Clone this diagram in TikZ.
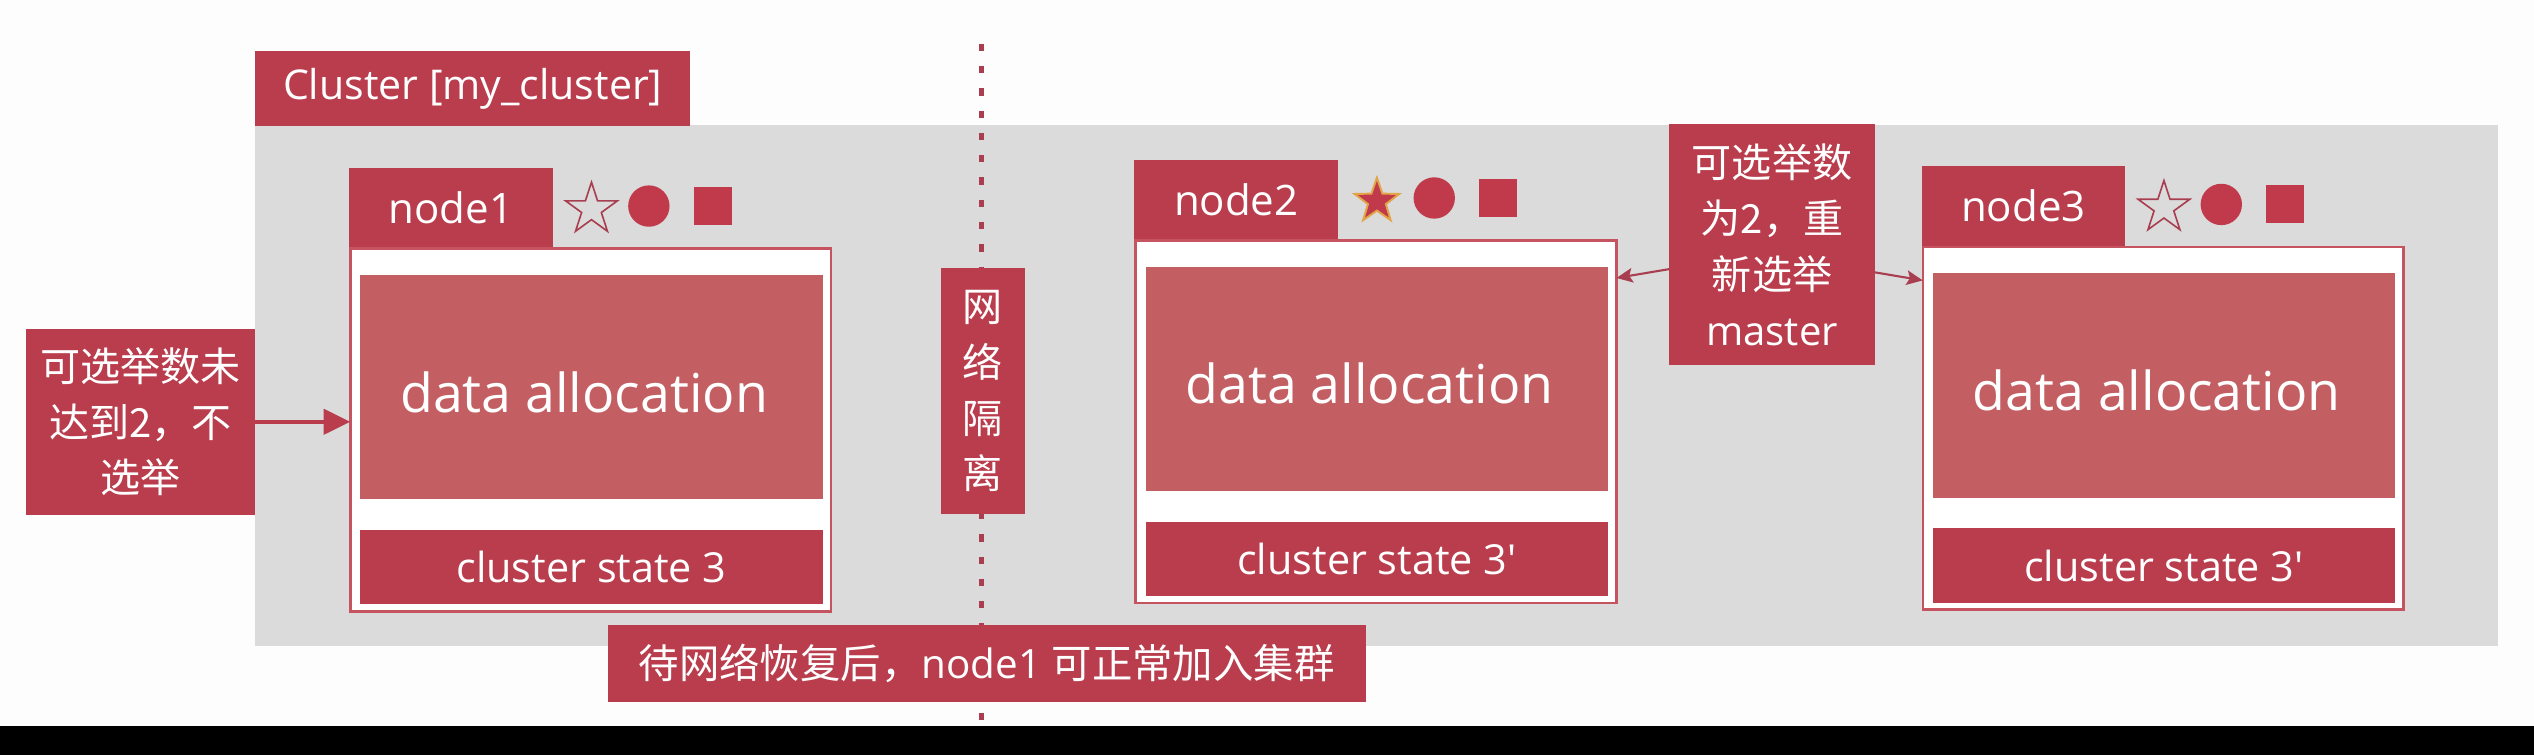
\documentclass[tikz,border=0pt]{standalone}
\usepackage{fontspec}
\setmainfont{Open Sans}
\newfontfamily\cjk{Noto Sans CJK SC}
\newfontfamily\latinf{Open Sans}
\newfontfamily\quotef[Ligatures=ResetAll]{Open Sans}
\usetikzlibrary{arrows.meta,calc}
\newcommand\setfs[2]{\fontsize{#1}{#2}\selectfont}
\definecolor{tabred}{RGB}{185,61,76}
\definecolor{datared}{RGB}{195,94,98}
\definecolor{framered}{RGB}{198,84,96}
\definecolor{grayzone}{RGB}{218,219,218}
\definecolor{symred}{RGB}{192,58,75}
\definecolor{dashred}{RGB}{168,62,80}
\definecolor{goldline}{RGB}{226,164,70}
\definecolor{bgwhite}{RGB}{253,253,253}
\tikzset{
  every node/.style={inner sep=0pt, outer sep=0pt},
  redbox/.style={fill=tabred, text=white, align=center},
  tabbox/.style={redbox, minimum width=126pt, minimum height=49pt, font=\setfs{26}{30}},
  framebox/.style={fill=white, draw=framered, line width=1.5pt, minimum width=297.5pt, minimum height=224.5pt},
  databox/.style={fill=datared, minimum width=286pt, minimum height=139pt},
  datatext/.style={text=white, font=\setfs{33.2}{38}},
  statebox/.style={redbox, minimum width=286pt, minimum height=46pt, font=\setfs{25.6}{30}},
  cjkbox/.style={redbox, font=\cjk\setfs{24.8}{34.5}},
  bigarrow/.style={draw=tabred, line width=2.6pt, -{Triangle[length=16.5pt,width=15.5pt]}},
  thinarrow/.style={draw=dashred, line width=1.3pt, -{Stealth[length=10pt,width=9pt,inset=2pt]}},
  sepline/.style={draw=dashred, line width=3pt, dash pattern=on 4.5pt off 9.3pt},
  pics/starempty/.style={code={
    \draw[draw=dashred, line width=1pt, fill=grayzone]
      (270:16.8) -- (306:6.42) -- (342:16.8) -- (18:6.42) -- (54:16.8) -- (90:6.42)
      -- (126:16.8) -- (162:6.42) -- (198:16.8) -- (234:6.42) -- cycle;}},
  pics/starfull/.style={code={
    \draw[draw=goldline, line width=1.2pt, fill=symred]
      (270:14.5) -- (306:5.8) -- (342:14.5) -- (18:5.8) -- (54:14.5) -- (90:5.8)
      -- (126:14.5) -- (162:5.8) -- (198:14.5) -- (234:5.8) -- cycle;}},
}
% #1 id, #2 X, #3 Y, #4 tab text, #5 state text, #6 star pic
\newcommand\serverblock[6]{%
  \begin{scope}[shift={(#2,#3)}]
    \node[framebox] (f#1) at (149.5,113) {};
    \node[tabbox] (t#1) at (63,-24.5) {#4};
    \node[databox] (d#1) at (150,86.5) {};
    \node[datatext] (dt#1) at (145.5,89.5) {data allocation};
    \node[statebox] (s#1) at (150,198) {#5};
    \pic at (150,-23.5) {#6};
    \fill[symred] (185.5,-25.5) circle (12.8pt);
    \fill[symred] (213.25,-37.25) rectangle (236.75,-13.75);
  \end{scope}}
\begin{document}
\begin{tikzpicture}[x=1pt,y=-1pt]
  \useasboundingbox (0,0) rectangle (1568,467);
  \fill[bgwhite] (0,0) rectangle (1568,467);
  \fill[black] (0,449) rectangle (1568,467);
  % cluster zone
  \fill[grayzone] (158,77.5) rectangle (1546,400);
  \node[redbox, minimum width=269pt, minimum height=46.5pt, font=\setfs{25.4}{30}] (cl) at (292.5,55) {Cluster [my\_cluster]};
  % network separation line
  \coordinate (dtop) at (607.5,27);
  \coordinate (dbot) at (607.5,449);
  \draw[sepline] (dtop) -- (dbot);
  % servers
  \serverblock{1}{216}{153}{node1}{cluster state 3}{starempty}
  \serverblock{2}{702}{148}{node2}{cluster state 3{\quotef '}}{starfull}
  \serverblock{3}{1189}{152}{node3}{cluster state 3{\quotef '}}{starempty}
  % notes
  \node[cjkbox, minimum width=142pt, minimum height=115pt] (lb) at (87,261) {可选举数未\\达到2，不\\选举};
  \node[cjkbox, minimum width=52pt, minimum height=152pt] (nb) at (608,242) {网\\络\\隔\\离};
  \node[cjkbox, minimum width=127pt, minimum height=149pt] (rb) at (1096.5,151.5) {可选举数\\为2，重\\新选举\\\latinf master};
  \node[redbox, minimum width=469pt, minimum height=47.5pt, font=\setfs{25}{30}] (bl) at (610.5,410.75) {\cjk 待网络恢复后，\latinf node1 \cjk 可正常加入集群};
  % connectors
  \draw[bigarrow] (lb.east) -- (lb.east -| f1.west);
  \draw[thinarrow] ($(rb.west)+(0,15)$) -- ($(f2.east)+(0,-89)$);
  \draw[thinarrow] ($(rb.east)+(0,17)$) -- ($(f3.west)+(0,-91.5)$);
\end{tikzpicture}
\end{document}
